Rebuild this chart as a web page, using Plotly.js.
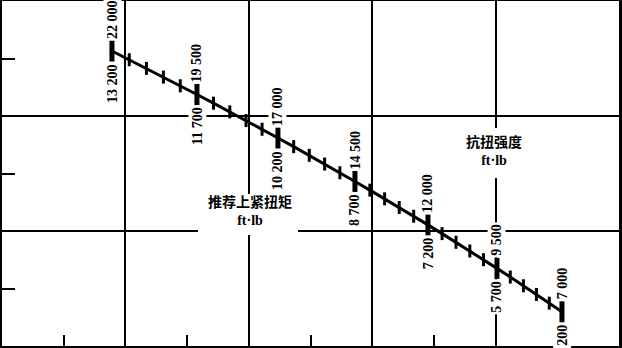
<!DOCTYPE html>
<html><head><meta charset="utf-8">
<script src="https://cdn.plot.ly/plotly-3.0.1.min.js"></script>
<style>html,body{margin:0;padding:0;background:#fff}#chart{width:622px;height:348px}</style>
</head><body><div id="chart"></div>
<script>
const strengthTorque = [22000, 19500, 17000, 14500, 12000, 9500, 7000];   // 抗扭强度 ft·lb
const tighteningTorque = [13200, 11700, 10200, 8700, 7200, 5700, 4200];  // 推荐上紧扭矩 ft·lb
const strengthTitle = '抗扭强度';
const tighteningTitle = '推荐上紧扭矩';
const unitLabel = 'ft·lb';
const subdivisions = 5;

// ---- layout geometry ----
const W = 622, H = 348, M = {l: 2, r: 3, t: 1, b: 2};
const XR = [0, 5], YR = [0, 3];
const pxX = (W - M.l - M.r) / (XR[1] - XR[0]);
const pxY = (H - M.t - M.b) / (YR[1] - YR[0]);
const ax = px => (px - M.l) / pxX;            // page px -> x units
const ay = py => (H - M.b - py) / pxY;        // page px -> y units
// scale curve of the nomograph (axis units)
const curve = {x0: 0.891, dx: 0.705, cx: -0.0162, y0: 2.565, dy: -0.378};
const step = strengthTorque[0] - strengthTorque[1];
function pos(v) {
  const u = (strengthTorque[0] - v) / step;
  return [curve.x0 + curve.dx * u + curve.cx * u * u, curve.y0 + curve.dy * u];
}
const majHalf = 10.5 / pxY, minHalf = 6.5 / pxY;

function fmt(v) {
  const s = String(v);
  return s.length > 3 ? s.slice(0, s.length - 3) + ' ' + s.slice(-3) : s;
}

const lineX = [], lineY = [], majX = [], majY = [], minX = [], minY = [];
const annotations = [];
const fontNum = {family: 'Liberation Serif', size: 14, color: '#000', weight: 700};
strengthTorque.forEach((v, i) => {
  const [x, y] = pos(v);
  majX.push(x, x, null); majY.push(y + majHalf, y - majHalf, null);
  annotations.push({x: x, y: y + majHalf, xref: 'x', yref: 'y', text: fmt(v), showarrow: false,
    textangle: -90, xanchor: 'center', yanchor: 'bottom', font: fontNum,
    bgcolor: '#fff', borderpad: 1});
  annotations.push({x: x, y: y - majHalf, xref: 'x', yref: 'y', text: fmt(tighteningTorque[i]), showarrow: false,
    textangle: -90, xanchor: 'center', yanchor: 'top', font: fontNum,
    bgcolor: '#fff', borderpad: 1});
  if (i < strengthTorque.length - 1) {
    for (let j = 0; j < subdivisions; j++) {
      const [px, py] = pos(v - j * step / subdivisions);
      lineX.push(px); lineY.push(py);
      if (j > 0) { minX.push(px, px, null); minY.push(py + minHalf, py - minHalf, null); }
    }
  } else { lineX.push(x); lineY.push(y); }
});

const titleFont = {family: 'Liberation Serif, Noto Sans CJK SC', size: 14, color: '#000', weight: 700};
annotations.push({x: ax(494), y: ay(151), xref: 'x', yref: 'y',
  text: strengthTitle + '<br>' + unitLabel, showarrow: false, font: titleFont, align: 'center'});
annotations.push({x: ax(250), y: ay(211), xref: 'x', yref: 'y',
  text: tighteningTitle + '<br>' + unitLabel, showarrow: false, font: titleFont, align: 'center'});

// white panels behind the two scale titles (they interrupt the grid)
const shapes = [
  {type: 'rect', xref: 'x', yref: 'y', x0: ax(462), x1: ax(528), y0: ay(128), y1: ay(178),
   fillcolor: '#fff', line: {width: 0}, layer: 'above'},
  {type: 'rect', xref: 'x', yref: 'y', x0: ax(198), x1: ax(298), y0: ay(194), y1: ay(235),
   fillcolor: '#fff', line: {width: 0}, layer: 'above'}
];

const traces = [
  {x: lineX, y: lineY, mode: 'lines', line: {color: '#000', width: 3}, hoverinfo: 'skip'},
  {x: minX, y: minY, mode: 'lines', line: {color: '#000', width: 3}, hoverinfo: 'skip'},
  {x: majX, y: majY, mode: 'lines', line: {color: '#000', width: 5}, hoverinfo: 'skip'}
];

const axisBase = {showgrid: true, gridcolor: '#000', gridwidth: 2, ticks: '', showticklabels: false,
  zeroline: false, showline: true, mirror: true, linecolor: '#000', linewidth: 3, fixedrange: true};
const layout = {
  width: W, height: H, margin: M, showlegend: false,
  paper_bgcolor: '#fff', plot_bgcolor: '#fff',
  xaxis: Object.assign({}, axisBase, {range: XR, dtick: 1, tick0: 0,
    minor: {dtick: 0.5, tick0: 0, ticks: 'inside', ticklen: 11, tickwidth: 2, tickcolor: '#000', showgrid: false}}),
  yaxis: Object.assign({}, axisBase, {range: YR, dtick: 1, tick0: 0,
    minor: {dtick: 0.5, tick0: 0, ticks: 'inside', ticklen: 13, tickwidth: 2, tickcolor: '#000', showgrid: false}}),
  shapes: shapes,
  annotations: annotations
};
Plotly.newPlot('chart', traces, layout, {staticPlot: true, displayModeBar: false});
</script></body></html>
